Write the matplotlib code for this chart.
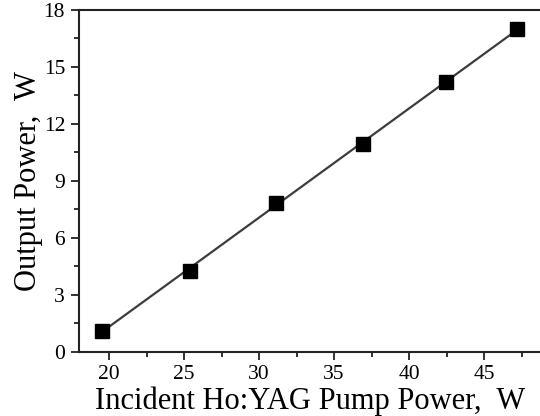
import numpy as np
import matplotlib
matplotlib.use("Agg")
import matplotlib.pyplot as plt
from matplotlib.ticker import MultipleLocator, FixedLocator

pump_power = [19.5, 25.4, 31.1, 36.95, 42.45, 47.2]
output_power = [1.1, 4.25, 7.85, 10.95, 14.2, 17.0]
x_ticks = [20, 25, 30, 35, 40, 45]
y_ticks = [0, 3, 6, 9, 12, 15, 18]
x_label = "Incident Ho:YAG Pump Power,  W"
y_label = "Output Power,  W"

plt.rcParams['font.family'] = ['Liberation Serif', 'DejaVu Serif']

fig = plt.figure(figsize=(5.4, 4.16), dpi=100)
ax = fig.add_axes([79/540, 64.4/416, 480/540, 341.6/416])

coef = np.polyfit(pump_power, output_power, 1)
xs = np.array([pump_power[0], pump_power[-1]])
ax.plot(xs, np.polyval(coef, xs), color='#3c3c3c', lw=1.6, zorder=2)
ax.plot(pump_power, output_power, 's', color='black', ms=9.5, zorder=3)

ax.set_xlim(18, 50)
ax.set_ylim(0, 18)
ax.xaxis.set_major_locator(FixedLocator(x_ticks))
ax.xaxis.set_minor_locator(MultipleLocator(2.5))
ax.yaxis.set_major_locator(FixedLocator(y_ticks))
ax.yaxis.set_minor_locator(MultipleLocator(1.5))
ax.tick_params(which='both', direction='out', top=False, right=False,
               color='#222222', width=1.3)
ax.tick_params(which='major', length=6, labelsize=15.5, pad=4)
ax.tick_params(which='minor', length=3.5)
for s in ax.spines.values():
    s.set_color('#222222')
    s.set_linewidth(1.5)

ax.set_xlabel(x_label, fontsize=22)
ax.xaxis.set_label_coords(0.481, -0.103, transform=ax.transAxes)
ax.xaxis.label.set_va('top')
ax.set_ylabel(y_label, fontsize=22, labelpad=0.5)

fig.savefig("out.png", dpi=100)
